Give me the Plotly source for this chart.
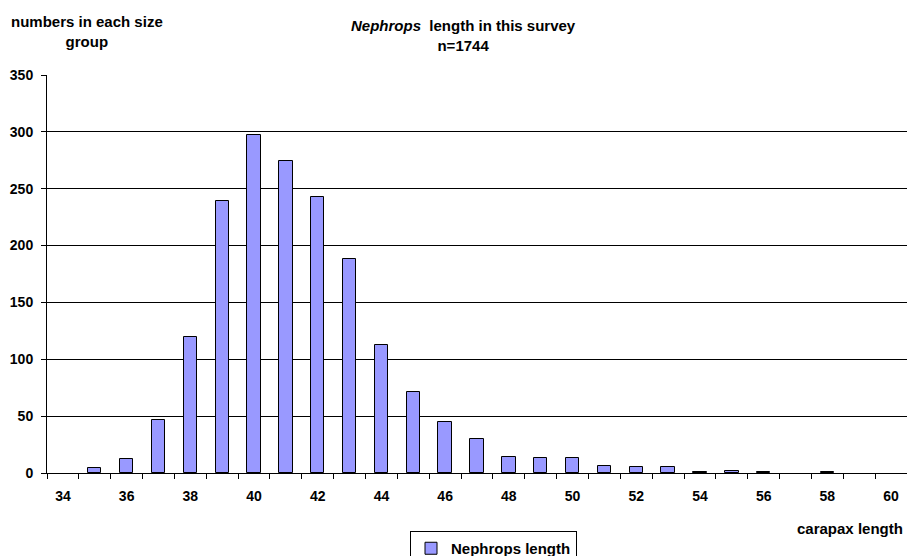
import plotly.graph_objects as go

lengths = list(range(34, 61))
counts = [0, 4, 12, 47, 120, 239, 297, 274, 243, 188, 113, 71, 45, 30, 14, 13, 13,
          6, 5, 5, 1, 2, 1, 0, 1, 0, 0]
tick_vals = list(range(34, 61, 2))
tick_text = [str(v) for v in tick_vals]

W, H = 907, 556
L, R, T, B = 47, 0, 75, 83
PW, PH = W - L - R, H - T - B
FONT = "Liberation Sans, Arial, sans-serif"


def px_x(x):
    return (x - L) / PW


def px_y(y):
    return (H - B - y) / PH


bar_y = [c if c > 0 else None for c in counts]

fig = go.Figure()
fig.add_trace(go.Bar(
    x=lengths, y=bar_y, name="Nephrops length",
    marker=dict(color="#9999FF", line=dict(color="#000000", width=1)),
    width=0.42,
))

fig.update_layout(
    width=W, height=H,
    margin=dict(l=L, r=R, t=T, b=B, pad=0, autoexpand=False),
    paper_bgcolor="white", plot_bgcolor="white",
    font=dict(family=FONT, size=14, color="black"),
    showlegend=True,
    legend=dict(
        orientation="h", xref="container", x=410 / W, xanchor="left",
        yref="container", y=(H - 531) / H, yanchor="top",
        bordercolor="black", borderwidth=1, bgcolor="white",
        font=dict(family=FONT, size=15, color="black", weight="bold"),
        itemwidth=30, tracegroupgap=0,
    ),
    bargap=0,
)

fig.update_xaxes(
    range=[33.5, 60.5], tickmode="array", tickvals=tick_vals, ticktext=tick_text,
    ticks="", ticklen=0, ticklabelstandoff=10, showgrid=False, zeroline=False,
    showline=True, linecolor="black", linewidth=1,
    tickfont=dict(family=FONT, size=14, color="black", weight="bold"),
    minor=dict(tickmode="linear", tick0=33.5, dtick=1, ticks="outside", ticklen=5,
               tickcolor="black", tickwidth=1, showgrid=False),
)
fig.update_yaxes(
    range=[0, 350], tickmode="linear", tick0=0, dtick=50,
    ticks="outside", ticklen=5, tickcolor="black", ticklabelstandoff=5,
    showgrid=True, gridcolor="black", gridwidth=1, zeroline=False,
    showline=True, linecolor="black", linewidth=1,
    tickfont=dict(family=FONT, size=14, color="black", weight="bold"),
)

fig.add_annotation(
    x=px_x(463), y=px_y(35), xref="paper", yref="paper", showarrow=False,
    text="<b><i>Nephrops</i>  length in this survey<br>n=1744</b>",
    font=dict(family=FONT, size=15, color="black"), align="center",
    xanchor="center", yanchor="middle",
)
fig.add_annotation(
    x=px_x(87), y=px_y(32), xref="paper", yref="paper", showarrow=False,
    text="<b>numbers in each size<br>group</b>",
    font=dict(family=FONT, size=15, color="black"), align="center",
    xanchor="center", yanchor="middle",
)
fig.add_annotation(
    x=px_x(905), y=px_y(528), xref="paper", yref="paper", showarrow=False,
    text="<b>carapax length</b>",
    font=dict(family=FONT, size=15, color="black"), align="right",
    xanchor="right", yanchor="middle",
)

fig.write_html("out.html", config={"displayModeBar": False},
               post_script="document.body.style.margin='0';")
